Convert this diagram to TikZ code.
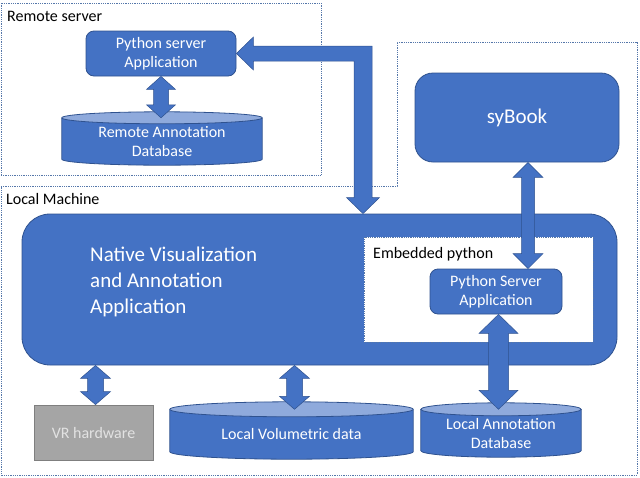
\documentclass[tikz,border=0pt]{standalone}
\usepackage{fontspec}
\setmainfont{Carlito}
\usetikzlibrary{calc,backgrounds}
\definecolor{ublue}{HTML}{4472C4}
\definecolor{uborder}{HTML}{2F528F}
\definecolor{ulight}{HTML}{8FAADC}
\definecolor{ugray}{HTML}{A5A5A5}
\definecolor{ugrayb}{HTML}{7F7F7F}
\definecolor{ugraytext}{HTML}{E2E2E2}
\definecolor{udot}{HTML}{5577AA}
\tikzset{
 txt/.style={font=\fontsize{16}{19.5}\selectfont},
 bigtxt/.style={font=\fontsize{21}{26}\selectfont},
 bluebox/.style={fill=ublue, draw=uborder, line width=0.8pt, rounded corners=8pt, text=white, align=center, inner sep=0pt, txt},
 dotbox/.style={draw=udot, line width=0.8pt, dash pattern=on 0.9pt off 0.9pt},
 dbnode/.style={inner sep=0pt, text=white, align=center, txt},
 cylbody/.style={fill=ublue},
 cyledge/.style={draw=uborder, line width=0.8pt},
 cyltop/.style={fill=ulight, draw=uborder, line width=0.8pt},
 barrow/.style={fill=ublue, draw=uborder, line width=0.5pt, line join=miter},
 plainlabel/.style={anchor=west, inner sep=0pt, txt, text=black},
}
\newcommand\vdarrow[5]{%
 \path[barrow] let \p1=#1, \p2=#2 in
 (\x1,\y1) -- (\x1+#4,\y1-#5) -- (\x1+#3,\y1-#5) -- (\x1+#3,\y2+#5) -- (\x1+#4,\y2+#5) -- (\x1,\y2)
 -- (\x1-#4,\y2+#5) -- (\x1-#3,\y2+#5) -- (\x1-#3,\y1-#5) -- (\x1-#4,\y1-#5) -- cycle;}
\newcommand\drawcyl[2]{%
 \path[cylbody] let \p1=(#1.north west), \p2=(#1.south east) in
  (\x1,\y1) -- (\x1,\y2+#2) arc[start angle=180,end angle=360,x radius={(\x2-\x1)/2},y radius=#2] -- (\x2,\y1) -- cycle;
 \path[cyledge] let \p1=(#1.north west), \p2=(#1.south east) in
  (\x1,\y1) -- (\x1,\y2+#2) arc[start angle=180,end angle=360,x radius={(\x2-\x1)/2},y radius=#2] -- (\x2,\y1);
 \path[cyltop] let \p1=(#1.north west), \p2=(#1.south east) in
  ({(\x1+\x2)/2},\y1) ellipse[x radius={(\x2-\x1)/2}, y radius=#2];}
\begin{document}
\begin{tikzpicture}[x=1pt,y=-1pt]
\useasboundingbox (0,0) rectangle (640,477);
% frames
\node[dotbox, minimum width=320pt, minimum height=172pt, inner sep=0pt] (rs) at (161,89) {};
\node[plainlabel] (rslabel) at (7,16) {Remote server};
\draw[dotbox] (1,186) -- (397,186) -- (397,42) -- (637,42) -- (637,475) -- (1,475) -- cycle;
\node[plainlabel] (lmlabel) at (6,199) {Local Machine};
% remote
\node[bluebox, minimum width=150pt, minimum height=45pt] (pys) at (161,53.5) {Python server\\Application};
\node[dbnode, minimum width=200pt, minimum height=47pt] (rdb) at (162,141.5) {Remote Annotation\\Database};
% sybook
\node[bluebox, rounded corners=18pt, minimum width=204pt, minimum height=89pt, bigtxt] (sy) at (517,117.5) {syBook};
% native
\node[bluebox, rounded corners=28pt, minimum width=595pt, minimum height=151pt] (nat) at (319.5,289.5) {};
\node[anchor=west, inner sep=0pt, text=white, align=left, bigtxt] (natlabel) at (90,282) {Native Visualization\\and Annotation\\Application};
\node[fill=white, dotbox, minimum width=229pt, minimum height=105pt, inner sep=0pt] (emb) at (478.5,289.5) {};
\node[plainlabel] (emblabel) at (373,254) {Embedded python};
\node[bluebox, minimum width=132pt, minimum height=45pt] (py2) at (496,291.5) {Python Server\\Application};
% bottom row
\node[fill=ugray, draw=ugrayb, line width=0.8pt, minimum width=119pt, minimum height=55pt, text=ugraytext, txt] (vr) at (93.5,432.5) {VR hardware};
\node[dbnode, minimum width=243pt, minimum height=49.5pt] (vol) at (291.5,434.25) {Local Volumetric data};
\node[dbnode, minimum width=160pt, minimum height=47.5pt] (ldb) at (501,433.25) {Local Annotation\\Database};
\begin{pgfonlayer}{background}
\drawcyl{rdb}{6pt}
\drawcyl{vol}{7.5pt}
\drawcyl{ldb}{6.5pt}
\end{pgfonlayer}
% arrows
\vdarrow{(pys.south)}{(rdb.north)}{7.5pt}{14.5pt}{13pt}
\vdarrow{($(sy.south)+(11,0)$)}{(py2.north)}{6.5pt}{15pt}{15pt}
\vdarrow{($(vr.north |- nat.south)+(2,0)$)}{(vr.north)}{8pt}{15pt}{13pt}
\vdarrow{($(vol.north |- nat.south)+(3,0)$)}{(vol.north)}{8pt}{15pt}{13pt}
\vdarrow{($(py2.south)+(2.5,0)$)}{(ldb.north)}{10pt}{19.5pt}{19pt}
\path[barrow] let \p1=(pys.east), \p2=($(nat.north)+(43.5,0)$) in
 (\x1,\y1) -- (\x1+17pt,\y1+16.5pt) -- (\x1+17pt,\y1+7.5pt) -- (\x2+9pt,\y1+7.5pt) -- (\x2+9pt,\y2+16pt)
 -- (\x2+16.5pt,\y2+16pt) -- (\x2,\y2) -- (\x2-16.5pt,\y2+16pt) -- (\x2-9pt,\y2+16pt) -- (\x2-9pt,\y1-7.5pt)
 -- (\x1+17pt,\y1-7.5pt) -- (\x1+17pt,\y1-16.5pt) -- cycle;
\end{tikzpicture}
\end{document}
